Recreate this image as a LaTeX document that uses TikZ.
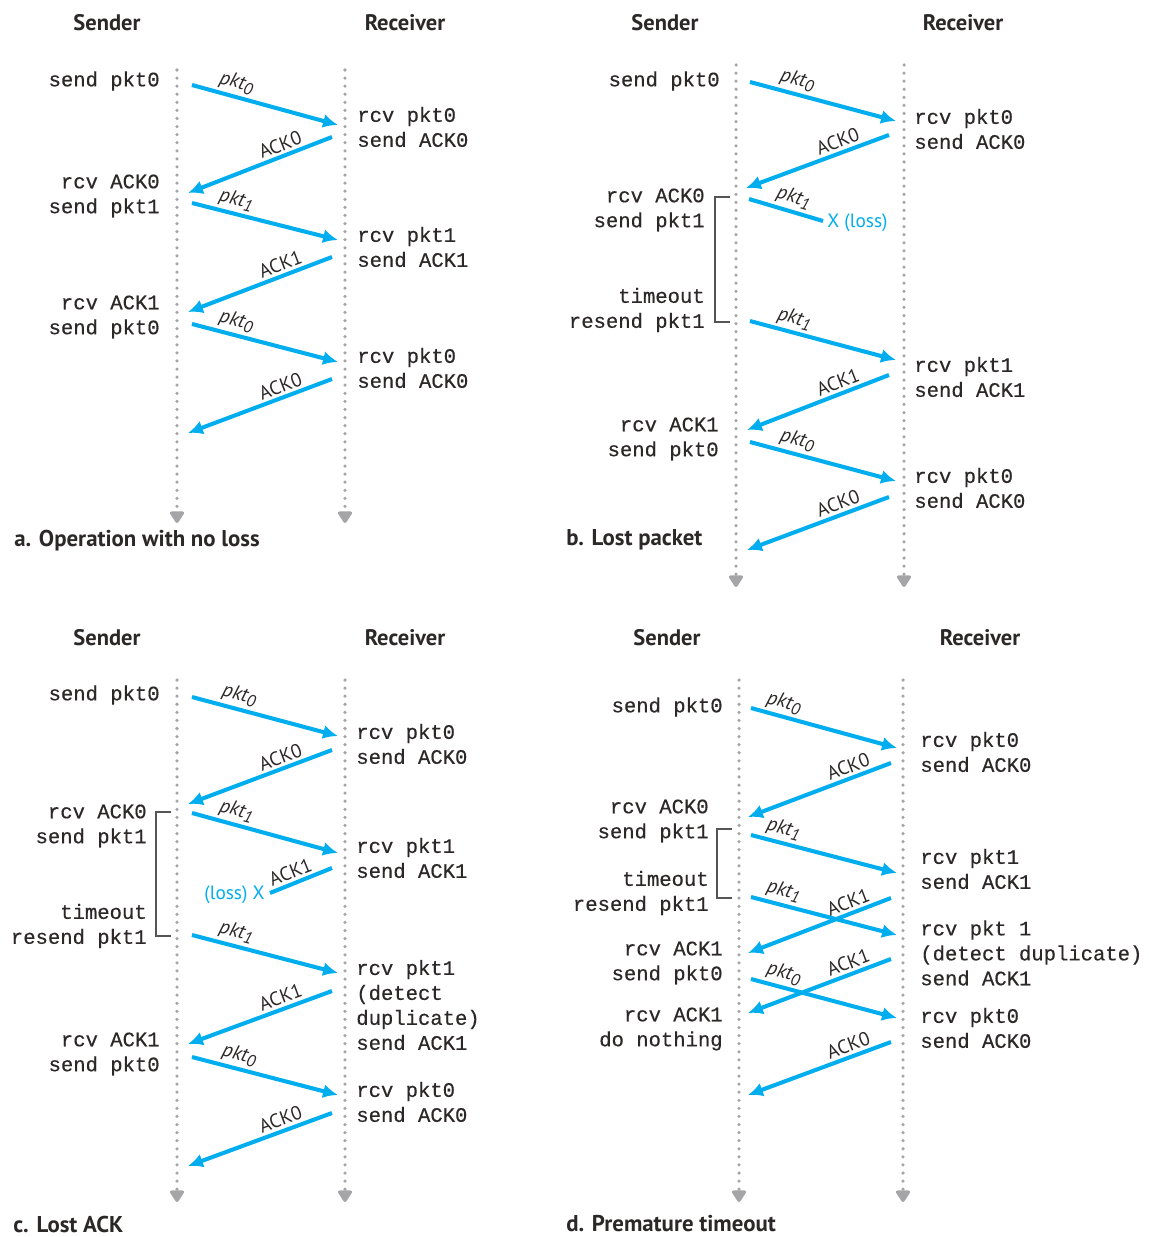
\documentclass[tikz,border=0pt]{standalone}
\usepackage{fontspec}
\setsansfont{PT Sans}
\setmonofont[FakeBold=0.4]{Liberation Mono}
\usetikzlibrary{arrows.meta,calc}

\definecolor{pktblue}{RGB}{0,174,239}
\definecolor{dotgray}{RGB}{165,165,168}
\definecolor{brackgray}{RGB}{85,85,85}
\definecolor{textdark}{RGB}{45,40,40}

\newcommand{\pktsub}[1]{pkt\raisebox{-0.35ex}{\fontsize{9.5}{10}\selectfont #1}}

\begin{document}
\begin{tikzpicture}[
    x=0.02cm, y=-0.02cm,
    lifeline/.style={draw=dotgray, line width=2pt, line cap=round, dash pattern=on 0pt off 4.6pt, -{Triangle[width=9pt,length=7.5pt,round]}},
    msg/.style={draw=pktblue, line width=2.3pt, -{Latex[length=8.5pt,width=8pt]}},
    lostmsg/.style={draw=pktblue, line width=2.3pt},
    pktlbl/.style={font=\sffamily\itshape\fontsize{11.5}{13}\selectfont, text=textdark, sloped, above, inner sep=1.5pt},
    acklbl/.style={font=\sffamily\fontsize{11}{13}\selectfont, text=textdark, sloped, above, inner sep=1.5pt},
    sndtxt/.style={font=\ttfamily\fontsize{11.7}{14.2}\selectfont, text=textdark, align=right, anchor=east, inner sep=0pt},
    rcvtxt/.style={font=\ttfamily\fontsize{11.7}{14.2}\selectfont, text=textdark, align=left, anchor=west, inner sep=0pt},
    hdr/.style={font=\sffamily\bfseries\fontsize{12.8}{15}\selectfont, text=textdark},
    caption/.style={font=\sffamily\bfseries\fontsize{13}{15}\selectfont, text=textdark, anchor=west, inner sep=0pt},
    losstxt/.style={font=\sffamily\fontsize{11}{13}\selectfont, text=pktblue, inner sep=0pt},
    timer/.style={draw=brackgray, line width=1.1pt},
]

\fill[white] (0,0) rectangle (1149,1237);
\useasboundingbox (0,0) rectangle (1149,1237);

%% a. Operation with no loss
\node[hdr] (aSender) at (107,23) {Sender};
\node[hdr] (aReceiver) at (405,23) {Receiver};

% Lifelines
\coordinate (aSt) at (177,70);  \coordinate (aSb) at (177,523);
\coordinate (aRt) at (345,70);  \coordinate (aRb) at (345,523);
\draw[lifeline] (aSt) -- (aSb);
\draw[lifeline] (aRt) -- (aRb);

% Sender side
\node[sndtxt] (aS1) at (160,81) {send pkt0};
\node[sndtxt] (aS2) at (160,196) {rcv ACK0\\send pkt1};
\node[sndtxt] (aS3) at (160,317) {rcv ACK1\\send pkt0};

% Receiver side
\node[rcvtxt] (aR1) at (357,127) {rcv pkt0\\send ACK0};
\node[rcvtxt] (aR2) at (357,247) {rcv pkt1\\send ACK1};
\node[rcvtxt] (aR3) at (357,368) {rcv pkt0\\send ACK0};

% Messages
\coordinate (a1s) at (192,85);   \coordinate (a1e) at (338,125);
\coordinate (a2s) at (332,137);  \coordinate (a2e) at (188,193);
\coordinate (a3s) at (192,203);  \coordinate (a3e) at (338,240);
\coordinate (a4s) at (332,257);  \coordinate (a4e) at (188,312);
\coordinate (a5s) at (192,324);  \coordinate (a5e) at (338,362);
\coordinate (a6s) at (332,379);  \coordinate (a6e) at (188,433);
\draw[msg] (a1s) -- node[pktlbl, pos=0.28] (a1l) {\pktsub{0}} (a1e);
\draw[msg] (a2s) -- node[acklbl, pos=0.33] (a2l) {ACK0} (a2e);
\draw[msg] (a3s) -- node[pktlbl, pos=0.28] (a3l) {\pktsub{1}} (a3e);
\draw[msg] (a4s) -- node[acklbl, pos=0.33] (a4l) {ACK1} (a4e);
\draw[msg] (a5s) -- node[pktlbl, pos=0.28] (a5l) {\pktsub{0}} (a5e);
\draw[msg] (a6s) -- node[acklbl, pos=0.33] (a6l) {ACK0} (a6e);

\node[caption] (aCap) at (14,541) {a. Operation with no loss};

%% b. Lost packet
\node[hdr] (bSender) at (665,23) {Sender};
\node[hdr] (bReceiver) at (963,23) {Receiver};

% Lifelines
\coordinate (bSt) at (736,65);  \coordinate (bSb) at (736,587);
\coordinate (bRt) at (904,65);  \coordinate (bRb) at (904,587);
\draw[lifeline] (bSt) -- (bSb);
\draw[lifeline] (bRt) -- (bRb);

% Sender side
\node[sndtxt] (bS1) at (720,81) {send pkt0};
\node[sndtxt] (bS2) at (705,210) {rcv ACK0\\send pkt1};
\node[sndtxt] (bS3) at (705,310) {timeout\\resend pkt1};
\node[sndtxt] (bS4) at (719,439) {rcv ACK1\\send pkt0};

% Timer bracket
\coordinate (bTt) at (730,197);  \coordinate (bTb) at (730,322);
\draw[timer] (bTt) -- ++(-15,0) |- (bTb);

% Receiver side
\node[rcvtxt] (bR1) at (914,129) {rcv pkt0\\send ACK0};
\node[rcvtxt] (bR2) at (914,377) {rcv pkt1\\send ACK1};
\node[rcvtxt] (bR3) at (914,488) {rcv pkt0\\send ACK0};

% Messages
\coordinate (b1s) at (750,82);   \coordinate (b1e) at (896,121);
\coordinate (b2s) at (889,135);  \coordinate (b2e) at (746,188);
\coordinate (b3s) at (749,199);
\node[losstxt, anchor=west] (bLoss) at (827,223) {X (loss)};
\coordinate (b4s) at (750,321);  \coordinate (b4e) at (896,360);
\coordinate (b5s) at (889,375);  \coordinate (b5e) at (747,430);
\coordinate (b6s) at (750,442);  \coordinate (b6e) at (896,481);
\coordinate (b7s) at (889,497);  \coordinate (b7e) at (747,550);
\draw[msg] (b1s) -- node[pktlbl, pos=0.3] (b1l) {\pktsub{0}} (b1e);
\draw[msg] (b2s) -- node[acklbl, pos=0.33] (b2l) {ACK0} (b2e);
\draw[lostmsg] (b3s) -- node[pktlbl, pos=0.55] (b3l) {\pktsub{1}} ($(bLoss.west)+(-4,-2)$);
\draw[msg] (b4s) -- node[pktlbl, pos=0.28] (b4l) {\pktsub{1}} (b4e);
\draw[msg] (b5s) -- node[acklbl, pos=0.33] (b5l) {ACK1} (b5e);
\draw[msg] (b6s) -- node[pktlbl, pos=0.3] (b6l) {\pktsub{0}} (b6e);
\draw[msg] (b7s) -- node[acklbl, pos=0.33] (b7l) {ACK0} (b7e);

\node[caption] (bCap) at (566,540) {b. Lost packet};

%% c. Lost ACK
\node[hdr] (cSender) at (107,638) {Sender};
\node[hdr] (cReceiver) at (405,638) {Receiver};

% Lifelines
\coordinate (cSt) at (177,680);  \coordinate (cSb) at (177,1202);
\coordinate (cRt) at (345,680);  \coordinate (cRb) at (345,1202);
\draw[lifeline] (cSt) -- (cSb);
\draw[lifeline] (cRt) -- (cRb);

% Sender side
\node[sndtxt] (cS1) at (160,695) {send pkt0};
\node[sndtxt] (cS2) at (147,826) {rcv ACK0\\send pkt1};
\node[sndtxt] (cS3) at (147,926) {timeout\\resend pkt1};
\node[sndtxt] (cS4) at (160,1054) {rcv ACK1\\send pkt0};

% Timer bracket
\coordinate (cTt) at (171,812);  \coordinate (cTb) at (171,936);
\draw[timer] (cTt) -- ++(-15,0) |- (cTb);

% Receiver side
\node[rcvtxt] (cR1) at (356,744) {rcv pkt0\\send ACK0};
\node[rcvtxt] (cR2) at (356,858) {rcv pkt1\\send ACK1};
\node[rcvtxt] (cR3) at (356,1005) {rcv pkt1\\(detect\\duplicate)\\send ACK1};
\node[rcvtxt] (cR4) at (356,1102) {rcv pkt0\\send ACK0};

% Messages
\coordinate (c1s) at (192,697);   \coordinate (c1e) at (338,736);
\coordinate (c2s) at (332,750);   \coordinate (c2e) at (188,804);
\coordinate (c3s) at (192,813);   \coordinate (c3e) at (338,853);
\coordinate (c4s) at (332,868);
\node[losstxt, anchor=east] (cLoss) at (265,895) {(loss) X};
\coordinate (c5s) at (192,935);   \coordinate (c5e) at (338,973);
\coordinate (c6s) at (332,991);   \coordinate (c6e) at (188,1044);
\coordinate (c7s) at (192,1057);  \coordinate (c7e) at (338,1095);
\coordinate (c8s) at (332,1113);  \coordinate (c8e) at (188,1166);
\draw[msg] (c1s) -- node[pktlbl, pos=0.3] (c1l) {\pktsub{0}} (c1e);
\draw[msg] (c2s) -- node[acklbl, pos=0.33] (c2l) {ACK0} (c2e);
\draw[msg] (c3s) -- node[pktlbl, pos=0.28] (c3l) {\pktsub{1}} (c3e);
\draw[lostmsg] (c4s) -- node[acklbl, pos=0.6] (c4l) {ACK1} ($(cLoss.east)+(5,-2)$);
\draw[msg] (c5s) -- node[pktlbl, pos=0.28] (c5l) {\pktsub{1}} (c5e);
\draw[msg] (c6s) -- node[acklbl, pos=0.33] (c6l) {ACK1} (c6e);
\draw[msg] (c7s) -- node[pktlbl, pos=0.3] (c7l) {\pktsub{0}} (c7e);
\draw[msg] (c8s) -- node[acklbl, pos=0.33] (c8l) {ACK0} (c8e);

\node[caption] (cCap) at (13,1224) {c. Lost ACK};

%% d. Premature timeout
\node[hdr] (dSender) at (667,638) {Sender};
\node[hdr] (dReceiver) at (980,638) {Receiver};

% Lifelines
\coordinate (dSt) at (739,680);  \coordinate (dSb) at (739,1202);
\coordinate (dRt) at (903,680);  \coordinate (dRb) at (903,1202);
\draw[lifeline] (dSt) -- (dSb);
\draw[lifeline] (dRt) -- (dRb);

% Sender side
\node[sndtxt] (dS1) at (723,707) {send pkt0};
\node[sndtxt] (dS2) at (709,821) {rcv ACK0\\send pkt1};
\node[sndtxt] (dS3) at (709,893) {timeout\\resend pkt1};
\node[sndtxt] (dS4) at (723,963) {rcv ACK1\\send pkt0};
\node[sndtxt] (dS5) at (723,1029) {rcv ACK1\\do nothing};

% Timer bracket
\coordinate (dTt) at (732,829);  \coordinate (dTb) at (732,898);
\draw[timer] (dTt) -- ++(-15,0) |- (dTb);

% Receiver side
\node[rcvtxt] (dR1) at (920,752) {rcv pkt0\\send ACK0};
\node[rcvtxt] (dR2) at (920,869) {rcv pkt1\\send ACK1};
\node[rcvtxt] (dR3) at (920,953) {rcv pkt 1\\(detect duplicate)\\send ACK1};
\node[rcvtxt] (dR4) at (920,1028) {rcv pkt0\\send ACK0};

% Messages
\coordinate (d1s) at (751,708);   \coordinate (d1e) at (897,748);
\coordinate (d2s) at (891,763);   \coordinate (d2e) at (748,817);
\coordinate (d3s) at (751,835);   \coordinate (d3e) at (897,873);
\coordinate (d4s) at (751,897);   \coordinate (d4e) at (897,935);
\coordinate (d5s) at (891,898);   \coordinate (d5e) at (748,953);
\coordinate (d6s) at (891,959);   \coordinate (d6e) at (748,1013);
\coordinate (d7s) at (751,979);   \coordinate (d7e) at (897,1018);
\coordinate (d8s) at (891,1042);  \coordinate (d8e) at (748,1095);
\draw[msg] (d1s) -- node[pktlbl, pos=0.2] (d1l) {\pktsub{0}} (d1e);
\draw[msg] (d2s) -- node[acklbl, pos=0.27] (d2l) {ACK0} (d2e);
\draw[msg] (d3s) -- node[pktlbl, pos=0.2] (d3l) {\pktsub{1}} (d3e);
\draw[msg] (d4s) -- node[pktlbl, pos=0.2] (d4l) {\pktsub{1}} (d4e);
\draw[msg] (d5s) -- node[acklbl, pos=0.27] (d5l) {ACK1} (d5e);
\draw[msg] (d6s) -- node[acklbl, pos=0.27] (d6l) {ACK1} (d6e);
\draw[msg] (d7s) -- node[pktlbl, pos=0.2] (d7l) {\pktsub{0}} (d7e);
\draw[msg] (d8s) -- node[acklbl, pos=0.27] (d8l) {ACK0} (d8e);

\node[caption] (dCap) at (566,1224) {d. Premature timeout};

\end{tikzpicture}
\end{document}
